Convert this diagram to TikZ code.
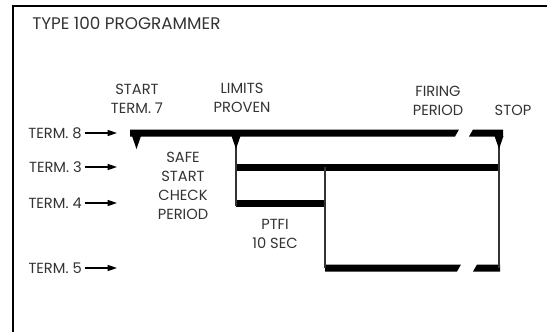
\documentclass[tikz,border=0pt]{standalone}
\usepackage{fontspec}
\setmainfont{Poppins}
\usetikzlibrary{arrows.meta}
\definecolor{tinta}{HTML}{333333}

\tikzset{
  lbl/.style={inner sep=0pt,align=center,text=tinta,font=\fontsize{11}{14.25}\selectfont},
  termlbl/.style={lbl,anchor=east},
  termarrow/.style={line width=0.9pt,-{Triangle[length=7pt,width=4.5pt]}},
  thinline/.style={line width=0.8pt,draw=tinta},
  marker/.style={fill=black}
}

\begin{document}
\begin{tikzpicture}[x=0.75pt,y=-0.75pt]
\useasboundingbox (0,0) rectangle (547,332);
\draw[line width=1.5pt] (547,6) -- (13,6) -- (13,332);
\node[lbl,anchor=west,font=\fontsize{12.6}{14}\selectfont] (titulo) at (32,23) {TYPE 100 PROGRAMMER};

\node[lbl] (arranque) at (137,98.5) {START\\TERM. 7};
\node[lbl] (limites) at (242,98) {LIMITS\\PROVEN};
\node[lbl] (disparo) at (438,101) {FIRING\\PERIOD};
\node[lbl] (paro) at (513,110) {STOP};
\node[lbl] (seguro) at (183,186) {SAFE\\START\\CHECK\\PERIOD};
\node[lbl] (ptfi) at (275,233.5) {PTFI\\10 SEC};

\node[termlbl] (t8) at (82,133) {TERM. 8};
\node[termlbl] (t3) at (82,167) {TERM. 3};
\node[termlbl] (t4) at (82,203) {TERM. 4};
\node[termlbl] (t5) at (82,268) {TERM. 5};
\coordinate (t8p) at (117,133);
\coordinate (t3p) at (117,167);
\coordinate (t4p) at (117,203);
\coordinate (t5p) at (117,268);
\foreach \t in {t8,t3,t4,t5}
  \draw[termarrow] ([xshift=2pt]\t.east) -- (\t p);

\fill (130,129.5) -- (459,129.5) -- (455,136.5) -- (130,136.5) -- cycle;
\fill (473,129.5) -- (503,129.5) -- (503,136.5) -- (469,136.5) -- cycle;
\fill (236,163.5) rectangle (499,170.5);
\fill (236,199.5) rectangle (325,206.5);
\fill (325,264.5) -- (461,264.5) -- (457,271.5) -- (325,271.5) -- cycle;
\fill (477,264.5) -- (500,264.5) -- (500,271.5) -- (473,271.5) -- cycle;

\draw[thinline] (236,136) -- (236,206);
\draw[thinline] (325,167) -- (325,268);
\draw[thinline] (499,136) -- (499,268);

\foreach \x in {136.5,236,499}
  \fill[marker] (\x-4.5,136) -- (\x+4.5,136) -- (\x,149) -- cycle;
\end{tikzpicture}
\end{document}
